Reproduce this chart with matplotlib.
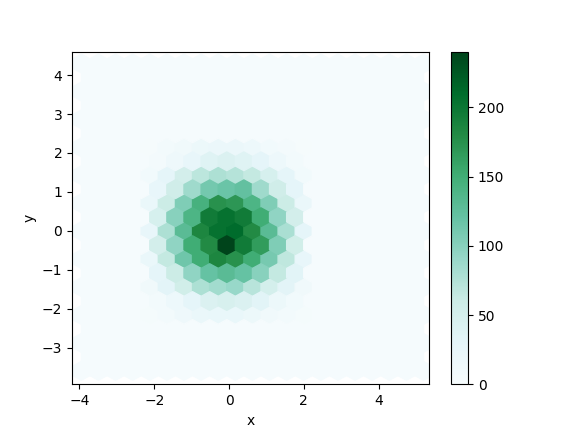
import numpy as np
import matplotlib
matplotlib.use("Agg")
import matplotlib.pyplot as plt

# hexbin grid (gridsize 20) extent
x_min, x_max, y_min, y_max = -3.95, 5.2, -3.6, 4.3
nx = 20
ny = int(nx / np.sqrt(3))
sx = (x_max - x_min) / nx
sy = (y_max - y_min) / ny

background = 3

# lattice 1 (centers at x_min + i*sx, y_min + j*sy), central columns i=4..13
l1_cols = list(range(4, 14))
l1_rows = {
    2: [5, 9, 15, 22, 24, 23, 19, 13, 9, 5],
    3: [12, 32, 55, 78, 85, 90, 72, 50, 33, 12],
    4: [22, 65, 115, 150, 185, 175, 150, 110, 68, 25],
    5: [26, 78, 130, 185, 205, 210, 180, 130, 80, 30],
    6: [22, 60, 105, 145, 175, 170, 140, 105, 60, 22],
    7: [10, 30, 52, 70, 78, 74, 65, 48, 30, 10],
    8: [4, 8, 13, 19, 21, 20, 16, 11, 7, 4],
}
# lattice 2 (centers offset by half a cell), central columns i=4..12
l2_cols = list(range(4, 13))
l2_rows = {
    2: [9, 17, 30, 43, 47, 43, 34, 19, 10],
    3: [30, 60, 95, 120, 130, 120, 100, 65, 34],
    4: [52, 95, 150, 180, 240, 195, 165, 105, 55],
    5: [48, 100, 140, 195, 205, 195, 150, 95, 52],
    6: [26, 56, 87, 112, 118, 122, 87, 56, 30],
    7: [7, 15, 26, 38, 43, 38, 30, 17, 9],
}

xs, ys, cs = [], [], []
for i in range(nx + 1):
    for j in range(ny + 1):
        c = background
        if j in l1_rows and i in l1_cols:
            c = l1_rows[j][l1_cols.index(i)]
        xs.append(x_min + i * sx); ys.append(y_min + j * sy); cs.append(c)
for i in range(nx):
    for j in range(ny):
        c = background
        if j in l2_rows and i in l2_cols:
            c = l2_rows[j][l2_cols.index(i)]
        xs.append(x_min + (i + 0.5) * sx); ys.append(y_min + (j + 0.5) * sy); cs.append(c)

fig, ax = plt.subplots(figsize=(5.76, 4.32), dpi=100)
hb = ax.hexbin(xs, ys, C=cs, reduce_C_function=np.sum, gridsize=nx,
               extent=(x_min, x_max, y_min, y_max), cmap='BuGn', vmin=0)
fig.colorbar(hb, ax=ax)
ax.set_xlim(-4.2, 5.35)
ax.set_ylim(-3.95, 4.6)
ax.set_xlabel('x')
ax.set_ylabel('y')
fig.savefig('out.png')
